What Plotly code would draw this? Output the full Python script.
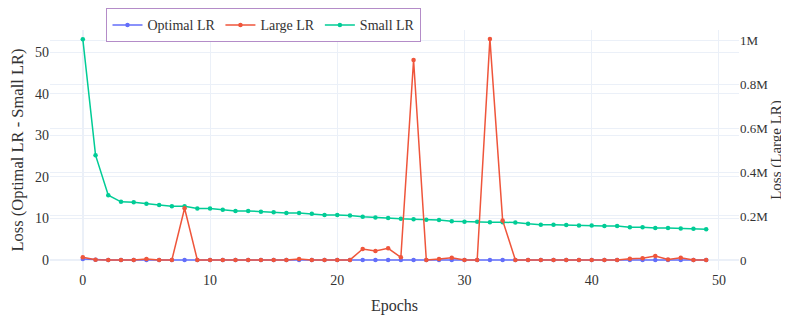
import plotly.graph_objects as go

epochs = list(range(50))

optimal_lr = [0.25, 0.05, 0.03, 0.03, 0.03, 0.03, 0.03, 0.03, 0.03, 0.03,
              0.03, 0.03, 0.03, 0.03, 0.03, 0.03, 0.03, 0.03, 0.03, 0.03,
              0.03, 0.03, 0.03, 0.03, 0.03, 0.03, 0.03, 0.03, 0.03, 0.03,
              0.03, 0.03, 0.03, 0.03, 0.03, 0.03, 0.03, 0.03, 0.03, 0.03,
              0.03, 0.03, 0.03, 0.03, 0.03, 0.03, 0.03, 0.03, 0.03, 0.03]

small_lr = [53.1, 25.2, 15.6, 14.0, 13.9, 13.5, 13.2, 12.9, 12.9, 12.4,
            12.4, 12.1, 11.8, 11.8, 11.6, 11.5, 11.3, 11.3, 11.1, 10.8,
            10.8, 10.7, 10.4, 10.2, 10.1, 9.9, 9.8, 9.7, 9.6, 9.3,
            9.2, 9.2, 9.1, 9.1, 9.0, 8.7, 8.5, 8.5, 8.4, 8.3,
            8.3, 8.2, 8.2, 7.9, 7.9, 7.7, 7.7, 7.6, 7.5, 7.4]

large_lr = [12000, 1000, 500, 500, 500, 5000, 500, 500, 235000, 500,
            500, 500, 500, 500, 500, 500, 500, 4000, 500, 500,
            500, 500, 50000, 41000, 53000, 12000, 909000, 500, 4000, 10000,
            500, 500, 1005000, 180000, 500, 500, 500, 500, 500, 500,
            500, 500, 500, 6000, 8000, 18000, 2000, 10000, 500, 500]

right_tickvals = [0, 200000, 400000, 600000, 800000, 1000000]
right_ticktext = ["0", "0.2M", "0.4M", "0.6M", "0.8M", "1M"]

FONT = "Liberation Serif"

fig = go.Figure()
fig.add_trace(go.Scatter(x=epochs, y=optimal_lr, name="Optimal LR", mode="lines+markers",
                         line=dict(color="#636efa", width=1.5), marker=dict(size=4.5), yaxis="y"))
fig.add_trace(go.Scatter(x=epochs, y=large_lr, name="Large LR", mode="lines+markers",
                         line=dict(color="#EF553B", width=1.5), marker=dict(size=4.5), yaxis="y2"))
fig.add_trace(go.Scatter(x=epochs, y=small_lr, name="Small LR", mode="lines+markers",
                         line=dict(color="#00cc96", width=1.5), marker=dict(size=4.5), yaxis="y"))

fig.update_layout(
    template="plotly_white",
    width=781, height=317,
    margin=dict(l=42, r=50, t=22, b=55, autoexpand=False),
    font=dict(family=FONT, size=14, color="#333"),
    xaxis=dict(title=dict(text="Epochs", font=dict(size=16, color="#333"), standoff=12),
               range=[-2.58, 51.58], dtick=10, tickfont=dict(size=14, color="#333"), automargin=False),
    yaxis=dict(title=dict(text="Loss (Optimal LR - Small LR)", font=dict(size=16.5, color="#333")),
               range=[-2.4, 55.3], dtick=10, tickfont=dict(size=14, color="#333"), automargin=False),
    yaxis2=dict(title=dict(text="Loss (Large LR)", font=dict(size=15, color="#333"), standoff=0),
                overlaying="y", side="right", range=[-45500, 1045500],
                tickvals=right_tickvals, ticktext=right_ticktext,
                tickfont=dict(size=13, color="#333"), automargin=False),
    legend=dict(orientation="h", x=0.082, y=1.09, xanchor="left", yanchor="top",
                bgcolor="white", bordercolor="#b48cc8", borderwidth=1,
                font=dict(size=14, color="#333")),
)

fig.write_html("out.html")
